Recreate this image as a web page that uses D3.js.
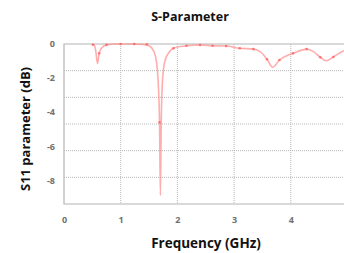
<!DOCTYPE html>
<html>
<head>
<meta charset="utf-8">
<script src="https://cdn.jsdelivr.net/npm/d3@7"></script>
<style>
  body { margin: 0; background: #fff; }
  text { font-family: "Open Sans", sans-serif; }
</style>
</head>
<body>
<svg id="chart"></svg>
<script>
// S11 curve (GHz, dB)
const freq = [0.50, 0.53, 0.56, 0.59, 0.62, 0.66, 0.75, 0.90, 1.20, 1.40, 1.50, 1.58, 1.63, 1.66, 1.685, 1.70, 1.715, 1.74, 1.78, 1.85, 1.93, 2.05, 2.16, 2.40, 2.62, 2.86, 3.10, 3.34, 3.48, 3.58, 3.68, 3.80, 3.92, 4.04, 4.28, 4.40, 4.52, 4.63, 4.75, 4.85, 4.96, 5.00]
const s11 = [0, -0.05, -0.4, -1.15, -0.55, -0.25, -0.05, 0, 0, -0.03, -0.1, -0.4, -1.0, -2.2, -4.6, -8.9, -4.5, -2.0, -1.0, -0.5, -0.25, -0.15, -0.1, -0.06, -0.1, -0.12, -0.25, -0.3, -0.5, -0.9, -1.37, -0.94, -0.7, -0.55, -0.3, -0.45, -0.78, -0.98, -0.76, -0.55, -0.35, -0.3]
// marker dots on the curve
const markerFreq = [0.51, 0.62, 0.75, 1.0, 1.24, 1.46, 1.685, 1.93, 2.16, 2.40, 2.62, 2.86, 3.10, 3.34, 3.58, 3.80, 4.04, 4.28, 4.52, 4.75]
const markerS11 = [-0.04, -0.55, -0.05, 0, 0, -0.02, -4.6, -0.25, -0.1, -0.06, -0.1, -0.12, -0.25, -0.3, -0.9, -0.94, -0.55, -0.3, -0.78, -0.76]
const xTicks = [0, 1, 2, 3, 4]
const yTicks = [0, -2, -4, -6, -8]
const gridRows = [1, 2, 3, 4, 5]

const width = 344, height = 253
const margin = {left: 64, top: 44, bottom: 49}
const svg = d3.select("#chart").attr("width", width).attr("height", height)

const x = d3.scaleLinear().domain([0, 5]).range([margin.left, 347.5])
const y = d3.scaleLinear().domain([0, -9.4]).range([margin.top, height - margin.bottom])
const gridY = d3.scaleLinear().domain([0, 6]).range([margin.top, height - margin.bottom])

// grid
svg.append("g").selectAll("line").data(gridRows).join("line")
  .attr("x1", margin.left).attr("x2", width)
  .attr("y1", d => gridY(d)).attr("y2", d => gridY(d))
  .attr("stroke", "#b8b8b8").attr("stroke-dasharray", "1,1")
svg.append("g").selectAll("line").data(xTicks.slice(1)).join("line")
  .attr("x1", d => x(d)).attr("x2", d => x(d))
  .attr("y1", margin.top).attr("y2", y.range()[1])
  .attr("stroke", "#b8b8b8").attr("stroke-dasharray", "1,1")

// frame
svg.append("path")
  .attr("d", `M${width},${margin.top}H${margin.left}V${y.range()[1]}H${width}`)
  .attr("fill", "none").attr("stroke", "#b4b4b4").attr("stroke-width", 1.2)

// axes labels
const xAxis = svg.append("g").attr("transform", `translate(0,${y.range()[1] + 10})`)
  .call(d3.axisBottom(x).tickValues(xTicks).tickSize(0).tickFormat(d3.format("d")))
xAxis.select(".domain").remove()
xAxis.selectAll("text").attr("fill", "#707070").style("font-size", "9px").style("font-weight", "bold")

const yAxis = svg.append("g").attr("transform", `translate(${margin.left - 6},0)`)
  .call(d3.axisLeft(y).tickValues(yTicks).tickSize(0).tickFormat(d => d))
yAxis.select(".domain").remove()
yAxis.selectAll("text").attr("fill", "#707070").style("font-size", "9px").style("font-weight", "bold")

// curve
const pts = freq.map((f, i) => [f, s11[i]])
const line = d3.line().x(d => x(d[0])).y(d => y(d[1])).curve(d3.curveMonotoneX)
svg.append("path").datum(pts).attr("d", line)
  .attr("fill", "none").attr("stroke", "#ff8a8a").attr("stroke-opacity", 0.7).attr("stroke-width", 1.6)

svg.append("g").selectAll("circle").data(markerFreq).join("circle")
  .attr("cx", d => x(d)).attr("cy", (d, i) => y(markerS11[i])).attr("r", 1.3)
  .attr("fill", "#ff6060").attr("fill-opacity", 0.8)

// titles
svg.append("text").attr("x", 190).attr("y", 21).attr("text-anchor", "middle")
  .style("font-size", "12.5px").style("font-weight", "bold").attr("fill", "#111").text("S-Parameter")
svg.append("text").attr("x", 206).attr("y", 248).attr("text-anchor", "middle")
  .style("font-size", "13.5px").style("font-weight", "bold").attr("fill", "#111").text("Frequency (GHz)")
svg.append("text").attr("transform", "translate(30,129) rotate(-90)").attr("text-anchor", "middle")
  .style("font-size", "13px").style("font-weight", "bold").attr("fill", "#111").text("S11 parameter (dB)")
</script>
</body>
</html>
